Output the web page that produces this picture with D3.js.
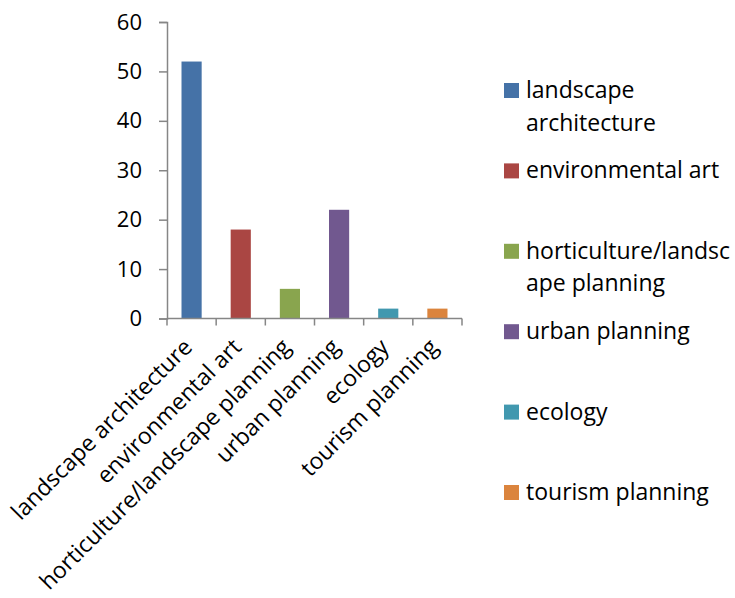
<!DOCTYPE html>
<html>
<head>
<meta charset="utf-8">
<script src="https://cdn.jsdelivr.net/npm/d3@7"></script>
<style>
  html, body { margin: 0; padding: 0; background: #fff; }
  svg { display: block; }
  text { font-family: "Open Sans", "Noto Sans", sans-serif; fill: #000; }
</style>
</head>
<body>
<svg id="chart" width="735" height="598"></svg>
<script>
// Number of people by discipline
const categories = [
  "landscape architecture",
  "environmental art",
  "horticulture/landscape planning",
  "urban planning",
  "ecology",
  "tourism planning"
];
const values = [52, 18, 6, 22, 2, 2];
const colors = ["#4572A7", "#AA4643", "#89A54E", "#71588F", "#4198AF", "#DB843D"];
// Legend labels, wrapped as they appear in the legend box
const legendLines = [
  ["landscape", "architecture"],
  ["environmental art"],
  ["horticulture/landsc", "ape planning"],
  ["urban planning"],
  ["ecology"],
  ["tourism planning"]
];
const yTicks = [0, 10, 20, 30, 40, 50, 60];

const svg = d3.select("#chart");
const plotLeft = 167, plotRight = 462, plotTop = 22, plotBottom = 318.5;
const fontSize = 23;

const x = d3.scaleBand()
  .domain(categories)
  .range([plotLeft, plotRight])
  .paddingInner(0.59)
  .paddingOuter(0.295);

const y = d3.scaleLinear().domain([0, 60]).range([plotBottom, plotTop]);

const axisColor = "#868686";

// Y axis
const yAxis = svg.append("g")
  .attr("transform", `translate(${plotLeft},0)`)
  .call(d3.axisLeft(y).tickValues(yTicks).tickSize(8).tickPadding(17).tickFormat(d3.format("d")));
yAxis.select(".domain").attr("stroke", axisColor).attr("stroke-width", 1.5);
yAxis.selectAll(".tick line").attr("stroke", axisColor).attr("stroke-width", 1.5);
yAxis.selectAll(".tick text")
  .attr("font-size", 22)
  .attr("font-family", "'Open Sans', sans-serif")
  .attr("fill", "#000");

// Bars
svg.append("g").selectAll("rect")
  .data(categories)
  .join("rect")
  .attr("x", d => x(d))
  .attr("width", x.bandwidth())
  .attr("y", (d, i) => y(values[i]))
  .attr("height", (d, i) => y(0) - y(values[i]))
  .attr("fill", (d, i) => colors[i]);

// X axis line with tick marks at category boundaries
const xAxis = svg.append("g");
xAxis.append("line")
  .attr("x1", plotLeft).attr("x2", plotRight)
  .attr("y1", plotBottom).attr("y2", plotBottom)
  .attr("stroke", axisColor).attr("stroke-width", 1.5);
const boundaries = d3.range(categories.length + 1).map(i => x.range()[0] + i * x.step());
xAxis.selectAll("line.tick")
  .data(boundaries)
  .join("line")
  .attr("class", "tick")
  .attr("x1", d => d).attr("x2", d => d)
  .attr("y1", plotBottom).attr("y2", plotBottom + 7)
  .attr("stroke", axisColor).attr("stroke-width", 1.5);

// Rotated category labels
xAxis.selectAll("text")
  .data(categories)
  .join("text")
  .attr("transform", d => `translate(${x(d) + x.bandwidth() / 2 + 2},${plotBottom + 30}) rotate(-45)`)
  .attr("text-anchor", "end")
  .attr("font-size", fontSize)
  .text(d => d);

// Legend
const legend = svg.append("g").attr("transform", "translate(504,83)");
const itemGap = 80.4, lineGap = 32.5;
const items = legend.selectAll("g")
  .data(categories)
  .join("g")
  .attr("transform", (d, i) => `translate(0,${i * itemGap})`);
items.append("rect")
  .attr("width", 15).attr("height", 15)
  .attr("fill", (d, i) => colors[i]);
items.append("text")
  .attr("x", 22)
  .attr("font-size", fontSize)
  .each(function (d, i) {
    d3.select(this).selectAll("tspan")
      .data(legendLines[i])
      .join("tspan")
      .attr("x", 22)
      .attr("y", (t, j) => 15 + j * lineGap)
      .text(t => t);
  });
</script>
</body>
</html>
